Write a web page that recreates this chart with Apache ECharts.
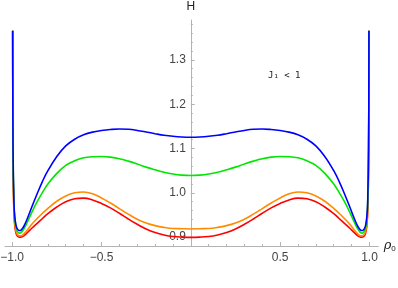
<!DOCTYPE html>
<html>
<head>
<meta charset="utf-8">
<script src="https://cdn.jsdelivr.net/npm/echarts@6/dist/echarts.min.js"></script>
<style>html,body{margin:0;padding:0;background:#fff;}#c{width:398px;height:288px;}</style>
</head>
<body>
<div id="c"></div>
<script>
// rho_0 sample positions
var rho = [-0.997,-0.995,-0.99,-0.985,-0.978,-0.97,-0.96,-0.95,-0.935,-0.915,-0.89,-0.86,-0.83,-0.8,-0.75,-0.7,-0.65,-0.6,-0.55,-0.5,-0.45,-0.4,-0.35,-0.3,-0.25,-0.2,-0.15,-0.1,-0.05,0,
           0.05,0.1,0.15,0.2,0.25,0.3,0.35,0.4,0.45,0.5,0.55,0.6,0.65,0.7,0.75,0.8,0.83,0.86,0.89,0.915,0.935,0.95,0.96,0.97,0.978,0.985,0.99,0.995,0.997];
var hBlue = [1.366,1.10,0.98,0.945,0.926,0.918,0.915,0.916,0.924,0.942,0.968,0.998,1.026,1.050,1.082,1.106,1.121,1.131,1.137,1.1405,1.1428,1.144,1.1433,1.1408,1.1373,1.1335,1.1300,1.1275,1.1260,1.1255,
             1.1260,1.1275,1.1300,1.1335,1.1373,1.1408,1.1433,1.144,1.1428,1.1405,1.137,1.131,1.121,1.106,1.082,1.050,1.026,0.998,0.968,0.942,0.924,0.916,0.915,0.918,0.926,0.945,0.98,1.10,1.366];
var hGreen = [1.366,1.09,0.975,0.94,0.921,0.913,0.909,0.910,0.918,0.934,0.956,0.980,1.001,1.020,1.044,1.062,1.0725,1.079,1.0815,1.082,1.0805,1.077,1.0715,1.065,1.058,1.052,1.0465,1.0425,1.0400,1.039,
              1.0400,1.0425,1.0465,1.052,1.058,1.065,1.0715,1.077,1.0805,1.082,1.0815,1.079,1.0725,1.062,1.044,1.020,1.001,0.980,0.956,0.934,0.918,0.910,0.909,0.913,0.921,0.94,0.975,1.09,1.366];
var hOrange = [1.366,1.07,0.96,0.93,0.913,0.906,0.903,0.903,0.907,0.916,0.929,0.942,0.954,0.965,0.981,0.993,1.000,1.002,0.998,0.9885,0.977,0.9645,0.952,0.9405,0.932,0.926,0.922,0.9195,0.919,0.9185,
               0.919,0.9195,0.922,0.926,0.932,0.9405,0.952,0.9645,0.977,0.9885,0.998,1.002,1.000,0.993,0.981,0.965,0.954,0.942,0.929,0.916,0.907,0.903,0.903,0.906,0.913,0.93,0.96,1.07,1.366];
var hRed = [1.366,1.06,0.955,0.925,0.908,0.902,0.900,0.900,0.903,0.910,0.920,0.931,0.942,0.953,0.968,0.980,0.9865,0.988,0.984,0.976,0.966,0.954,0.941,0.929,0.9185,0.9105,0.905,0.9015,0.900,0.8995,
            0.900,0.9015,0.905,0.9105,0.9185,0.929,0.941,0.954,0.966,0.976,0.984,0.988,0.9865,0.980,0.968,0.953,0.942,0.931,0.920,0.910,0.903,0.900,0.900,0.902,0.908,0.925,0.955,1.06,1.366];
var xMajor = [-1.0,-0.5,0.5,1.0];
var xMinor = [-0.9,-0.8,-0.7,-0.6,-0.4,-0.3,-0.2,-0.1,0.1,0.2,0.3,0.4,0.6,0.7,0.8,0.9];
var yMajor = [0.9,1.0,1.1,1.2,1.3];
var yMinor = [0.92,0.94,0.96,0.98,1.02,1.04,1.06,1.08,1.12,1.14,1.16,1.18,1.22,1.24,1.26,1.28,1.32,1.34,1.36,1.38];

function pairs(xs, ys){ var out=[]; for(var i=0;i<xs.length;i++) out.push([xs[i], ys[i]]); return out; }
function fmt(v){ var s = Math.abs(v).toFixed(1); return v < 0 ? '\u2212' + s : s; }

var axisGray = '#b3b3b3';
var labelColor = '#444';
var font = 'Liberation Sans, Arial, sans-serif';
var gridLeft = 5, gridRight = 19.6, xMin = -1.04, xMax = 1.05;
var plotW = 398 - gridLeft - gridRight;
var yOffset = -plotW * (0 - xMin) / (xMax - xMin); // move y axis onto rho = 0

var chart = echarts.init(document.getElementById('c'), null, {renderer:'canvas'});
var lineSeries = function(name, color, ys){
  return {name:name, type:'line', data:pairs(rho, ys), showSymbol:false, symbol:'none', smooth:0.4,
          lineStyle:{color:color, width:1.6}, itemStyle:{color:color}, xAxisIndex:0, yAxisIndex:0, z:3};
};
chart.setOption({
  animation:false,
  backgroundColor:'#fff',
  grid:{left:gridLeft, right:gridRight, top:20, bottom:42, containLabel:false, outerBoundsMode:'none'},
  xAxis:[{
    type:'value', min:xMin, max:xMax,
    axisLine:{onZero:false, lineStyle:{color:axisGray, width:1}},
    axisTick:{inside:true, length:4, customValues:xMajor, lineStyle:{color:axisGray}},
    axisLabel:{customValues:xMajor, formatter:fmt, color:labelColor, fontSize:12, fontFamily:font, margin:6},
    splitLine:{show:false},
    name:'{r|\u03c1}{s|0}', nameLocation:'end', nameGap:4,
    nameTextStyle:{rich:{r:{fontSize:13, fontFamily:'DejaVu Serif, serif', fontStyle:'italic', color:'#222'}, s:{fontSize:8, color:'#222', fontFamily:font, verticalAlign:'bottom', padding:[6,0,0,0]}}}
  },{
    type:'value', min:xMin, max:xMax, position:'bottom',
    axisLine:{show:false, onZero:false},
    axisTick:{inside:true, length:2, customValues:xMinor, lineStyle:{color:axisGray}},
    axisLabel:{show:false}, splitLine:{show:false}
  }],
  yAxis:[{
    type:'value', min:0.88, max:1.39, position:'left', offset:yOffset,
    axisLine:{onZero:false, lineStyle:{color:axisGray, width:1}},
    axisTick:{inside:true, length:4, customValues:yMajor, lineStyle:{color:axisGray}},
    axisLabel:{customValues:yMajor, formatter:function(v){return v.toFixed(1);}, color:labelColor, fontSize:12, fontFamily:font, margin:5},
    splitLine:{show:false},
    name:'H', nameLocation:'end', nameGap:7,
    nameTextStyle:{color:'#222', fontSize:12, fontFamily:font}
  },{
    type:'value', min:0.88, max:1.39, position:'left', offset:yOffset,
    axisLine:{show:false, onZero:false},
    axisTick:{inside:true, length:2, customValues:yMinor, lineStyle:{color:axisGray}},
    axisLabel:{show:false}, splitLine:{show:false}
  }],
  graphic:[{
    type:'text', left:268, top:71,
    style:{text:'J\u2081 < 1', fill:'#222', font:'9px DejaVu Sans Mono, monospace'}
  }],
  series:[
    lineSeries('d','#ff0000',hRed),
    lineSeries('c','#ff8c00',hOrange),
    lineSeries('b','#00e600',hGreen),
    lineSeries('a','#0000ff',hBlue)
  ]
});
</script>
</body>
</html>
